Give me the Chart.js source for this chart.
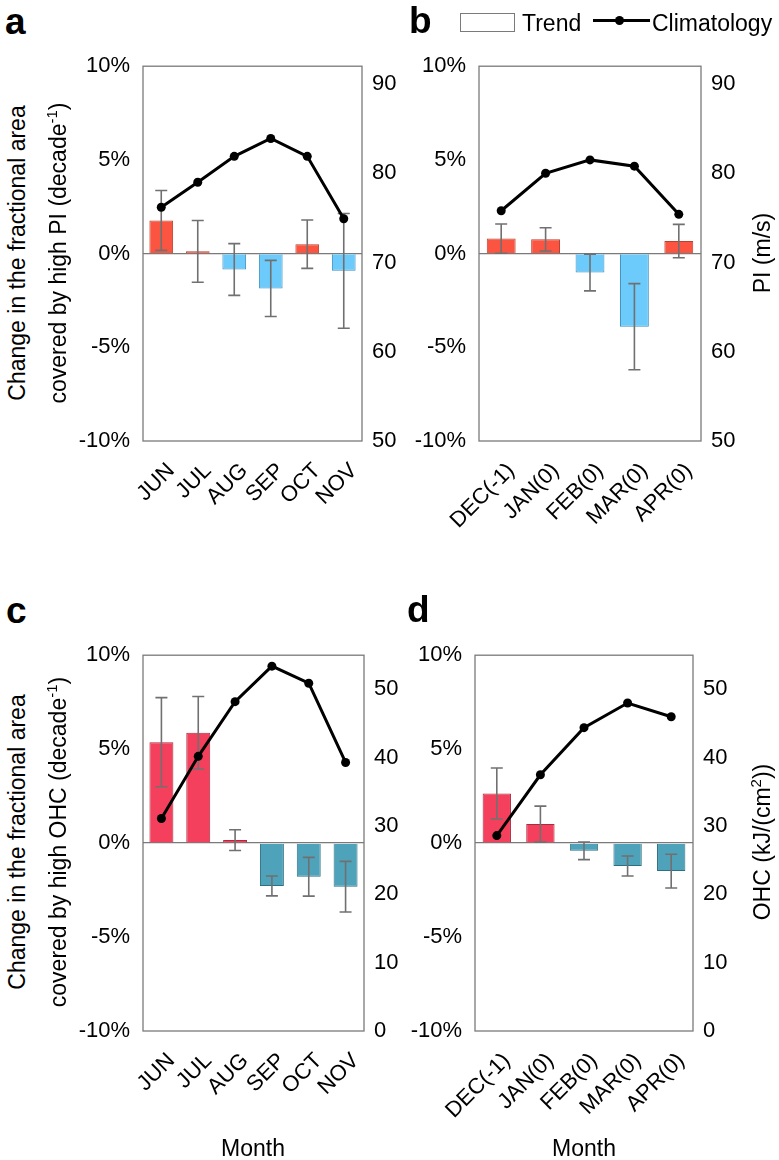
<!DOCTYPE html>
<html>
<head>
<meta charset="utf-8">
<script src="https://cdn.jsdelivr.net/npm/chart.js@4.4.0/dist/chart.umd.min.js"></script>
<style>
  body { margin: 0; background: #fff; }
  #fig { position: relative; width: 779px; height: 1160px; overflow: hidden;
         font-family: 'Liberation Sans', Arial, sans-serif; color: #000; }
  #fig canvas { position: absolute; }
  .letter { position: absolute; font-weight: bold; font-size: 37px; line-height: 36px; }
  .vt { position: absolute; width: 400px; height: 28px; line-height: 28px; text-align: center;
        font-size: 23px; white-space: nowrap; transform: rotate(-90deg); z-index: 2; }
  .vt sup { font-size: 15px; line-height: 0; vertical-align: 9px; }
  .month { position: absolute; width: 200px; text-align: center; font-size: 23px; line-height: 28px; }
  .legend { position: absolute; top: 8px; left: 460px; height: 30px; font-size: 23px; line-height: 30px; }
  .legend .box { position: absolute; left: 0; top: 5px; width: 53px; height: 17px; border: 1.5px solid #7a7a7a; }
  .legend .t1 { position: absolute; left: 62px; top: 0; }
  .legend .ln { position: absolute; left: 133px; top: 11px; width: 57px; height: 3px; background: #000; }
  .legend .dot { position: absolute; left: 155px; top: 8px; width: 9px; height: 9px; border-radius: 50%; background: #000; }
  .legend .t2 { position: absolute; left: 192px; top: 0; }
</style>
</head>
<body>
<div id="fig">
  <canvas id="cA"></canvas>
  <canvas id="cB"></canvas>
  <canvas id="cC"></canvas>
  <canvas id="cD"></canvas>

  <div class="letter" style="left:5px;top:4px;">a</div>
  <div class="letter" style="left:409px;top:3px;">b</div>
  <div class="letter" style="left:6px;top:593px;">c</div>
  <div class="letter" style="left:407px;top:592px;">d</div>

  <div class="legend">
    <div class="box"></div><div class="t1">Trend</div>
    <div class="ln"></div><div class="dot"></div><div class="t2">Climatology</div>
  </div>

  <div class="vt" style="left:-183px;top:239px;">Change in the fractional area</div>
  <div class="vt" style="left:-142px;top:239px;">covered by high PI (decade<sup>-1</sup>)</div>
  <div class="vt" style="left:-183px;top:828px;">Change in the fractional area</div>
  <div class="vt" style="left:-142px;top:828px;">covered by high OHC (decade<sup>-1</sup>)</div>
  <div class="vt" style="left:562px;top:239px;">PI (m/s)</div>
  <div class="vt" style="left:562px;top:828px;">OHC (kJ/(cm<sup>2</sup>))</div>

  <div class="month" style="left:153px;top:1134px;">Month</div>
  <div class="month" style="left:484px;top:1134px;">Month</div>
</div>

<script>
// categories
const monthsSummer = ["JUN", "JUL", "AUG", "SEP", "OCT", "NOV"];
const monthsWinter = ["DEC(-1)", "JAN(0)", "FEB(0)", "MAR(0)", "APR(0)"];

// trend (% per decade) and error half-widths
const trendA = [1.77, 0.12, -0.85, -1.86, 0.50, -0.92];
const errA   = [1.60, 1.65, 1.38, 1.50, 1.29, 3.06];
const trendB = [0.80, 0.76, -1.01, -3.90, 0.67];
const errB   = [0.78, 0.62, 0.98, 2.30, 0.89];
const trendC = [5.37, 5.87, 0.16, -2.28, -1.79, -2.32];
const errC   = [2.37, 1.93, 0.55, 0.53, 1.03, 1.35];
const trendD = [2.64, 1.01, -0.41, -1.22, -1.49];
const errD   = [1.36, 0.96, 0.47, 0.53, 0.90];

// climatology (right axis)
const climA = [76.2, 79.0, 81.9, 83.9, 81.9, 74.9];   // PI, m/s
const climB = [75.8, 80.0, 81.5, 80.8, 75.4];
const climC = [31.1, 40.2, 48.2, 53.4, 50.9, 39.3];   // OHC, kJ/cm2
const climD = [28.6, 37.5, 44.4, 48.0, 46.0];

// tick labels
const pctTicks = [-10, -5, 0, 5, 10];
const piTicks = [50, 60, 70, 80, 90];
const ohcTicks = [0, 10, 20, 30, 40, 50];

const FONT = "'Liberation Sans', Arial, sans-serif";
Chart.defaults.font.family = FONT;
Chart.defaults.color = "#000";

const LEFT_W = 93, RIGHT_W = 45, PAD_TOP = 25, X_H = 115;

const framePlugin = {
  id: "frame",
  beforeDatasetsDraw(chart) {
    const a = chart.chartArea, ctx = chart.ctx;
    ctx.save();
    ctx.strokeStyle = "#7a7a7a";
    ctx.lineWidth = 1.3;
    ctx.strokeRect(a.left, a.top, a.right - a.left, a.bottom - a.top);
    ctx.restore();
  }
};

const errorBarPlugin = {
  id: "errorBars",
  afterDatasetDraw(chart, args, opts) {
    if (args.meta.type !== "bar") return;
    const y = chart.scales.y, ctx = chart.ctx;
    const vals = chart.data.datasets[args.index].data;
    ctx.save();
    ctx.strokeStyle = "#707070";
    ctx.lineWidth = 1.6;
    args.meta.data.forEach((bar, i) => {
      const hi = y.getPixelForValue(vals[i] + opts.errors[i]);
      const lo = y.getPixelForValue(vals[i] - opts.errors[i]);
      ctx.beginPath();
      ctx.moveTo(bar.x, hi); ctx.lineTo(bar.x, lo);
      ctx.moveTo(bar.x - 6, hi); ctx.lineTo(bar.x + 6, hi);
      ctx.moveTo(bar.x - 6, lo); ctx.lineTo(bar.x + 6, lo);
      ctx.stroke();
    });
    ctx.restore();
  }
};

function fixedTicks(list) {
  return scale => { scale.ticks = list.map(v => ({ value: v })); };
}

function makePanel(id, area, labels, trend, err, clim, colors, rightTicks, rightMin, rightMax) {
  const cv = document.getElementById(id);
  const left = area.L - LEFT_W, top = area.T - PAD_TOP;
  cv.width = area.R + RIGHT_W - left;
  cv.height = area.B + X_H - top;
  cv.style.left = left + "px";
  cv.style.top = top + "px";

  return new Chart(cv, {
    data: {
      labels: labels,
      datasets: [
        {
          type: "line",
          data: clim,
          yAxisID: "y1",
          borderColor: "#000",
          borderWidth: 3,
          pointRadius: 4.5,
          pointBackgroundColor: "#000",
          pointBorderWidth: 0,
          order: 0
        },
        {
          type: "bar",
          data: trend,
          yAxisID: "y",
          backgroundColor: trend.map(v => v >= 0 ? colors.pos : colors.neg),
          borderColor: trend.map(v => v >= 0 ? colors.posEdge : colors.negEdge),
          borderWidth: 1,
          categoryPercentage: 1,
          barPercentage: 0.65,
          order: 1
        }
      ]
    },
    options: {
      responsive: false,
      animation: false,
      devicePixelRatio: 1,
      layout: { padding: { top: PAD_TOP, left: 0, right: 0, bottom: 0 } },
      plugins: {
        legend: { display: false },
        tooltip: { enabled: false },
        errorBars: { errors: err }
      },
      scales: {
        x: {
          offset: true,
          grid: { display: false },
          border: { display: false },
          ticks: { font: { size: 22 }, autoSkip: false, minRotation: 45, maxRotation: 45, padding: 9, labelOffset: 10 },
          afterFit: s => { s.height = X_H; }
        },
        y: {
          position: "left",
          min: -10, max: 10,
          afterBuildTicks: fixedTicks(pctTicks),
          grid: {
            drawTicks: false,
            color: c => c.tick && c.tick.value === 0 ? "#7a7a7a" : "rgba(0,0,0,0)",
            lineWidth: 1.3
          },
          border: { display: false },
          ticks: { font: { size: 22 }, padding: 13, callback: v => v + "%" },
          afterFit: s => { s.width = LEFT_W; }
        },
        y1: {
          position: "right",
          min: rightMin, max: rightMax,
          afterBuildTicks: fixedTicks(rightTicks),
          grid: { display: false, drawTicks: false },
          border: { display: false },
          ticks: { font: { size: 22 }, padding: 10 },
          afterFit: s => { s.width = RIGHT_W; }
        }
      }
    },
    plugins: [framePlugin, errorBarPlugin]
  });
}

const piColors = { pos: "#fb5541", posEdge: "#b8412f", neg: "#6ccbfa", negEdge: "#3f8fbf" };
const ohcColors = { pos: "#f4405c", posEdge: "#a82c40", neg: "#4ea3ba", negEdge: "#2e7083" };

makePanel("cA", { L: 143, R: 362, T: 65, B: 441 }, monthsSummer, trendA, errA, climA, piColors, piTicks, 50, 92);
makePanel("cB", { L: 479, R: 701, T: 65, B: 441 }, monthsWinter, trendB, errB, climB, piColors, piTicks, 50, 92);
makePanel("cC", { L: 143, R: 364, T: 654, B: 1031 }, monthsSummer, trendC, errC, climC, ohcColors, ohcTicks, 0, 55);
makePanel("cD", { L: 475, R: 693, T: 654, B: 1031 }, monthsWinter, trendD, errD, climD, ohcColors, ohcTicks, 0, 55);
</script>
</body>
</html>
